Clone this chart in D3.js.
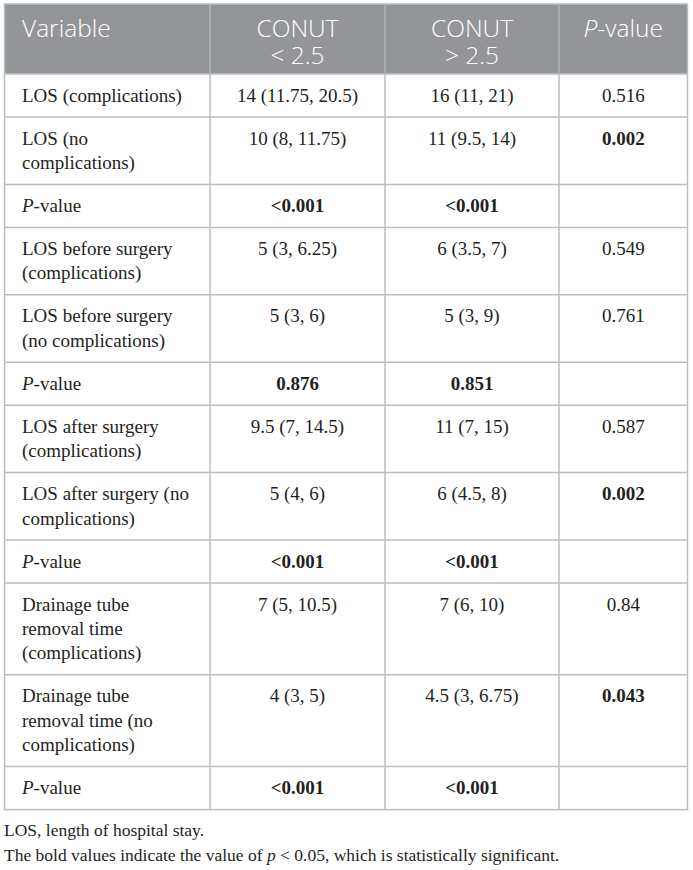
<!DOCTYPE html>
<html>
<head>
<meta charset="utf-8">
<script src="https://cdn.jsdelivr.net/npm/d3@7"></script>
<style>
  html, body { margin: 0; padding: 0; background: #ffffff; }
  svg { display: block; }
</style>
</head>
<body>
<div id="chart"></div>
<script>
// ---------- data ----------
const headers = [["Variable"], ["CONUT", "< 2.5"], ["CONUT", "> 2.5"], ["P-value"]];
const variables = [
  ["LOS (complications)"],
  ["LOS (no", "complications)"],
  ["P-value"],
  ["LOS before surgery", "(complications)"],
  ["LOS before surgery", "(no complications)"],
  ["P-value"],
  ["LOS after surgery", "(complications)"],
  ["LOS after surgery (no", "complications)"],
  ["P-value"],
  ["Drainage tube", "removal time", "(complications)"],
  ["Drainage tube", "removal time (no", "complications)"],
  ["P-value"]
];
const conutLow = ["14 (11.75, 20.5)", "10 (8, 11.75)", "<0.001", "5 (3, 6.25)", "5 (3, 6)", "0.876",
  "9.5 (7, 14.5)", "5 (4, 6)", "<0.001", "7 (5, 10.5)", "4 (3, 5)", "<0.001"];
const conutHigh = ["16 (11, 21)", "11 (9.5, 14)", "<0.001", "6 (3.5, 7)", "5 (3, 9)", "0.851",
  "11 (7, 15)", "6 (4.5, 8)", "<0.001", "7 (6, 10)", "4.5 (3, 6.75)", "<0.001"];
const pValues = ["0.516", "0.002", "", "0.549", "0.761", "", "0.587", "0.002", "", "0.84", "0.043", ""];
const boldLow  = [false, false, true, false, false, true, false, false, true, false, false, true];
const boldHigh = [false, false, true, false, false, true, false, false, true, false, false, true];
const boldP    = [false, true, false, false, false, false, false, true, false, false, true, false];
const footnotes = ["LOS, length of hospital stay.",
  "The bold values indicate the value of p < 0.05, which is statistically significant."];

// ---------- layout ----------
const W = 693, H = 870;
const colEdges = [4.5, 210, 385, 559, 687.5];
const tableTop = 4, headerH = 70;
const lineH = 24.4, rowPad = 18.6, firstBase = 27.5;
const serif = "'Liberation Serif', 'Times New Roman', serif";
const sans = "'Open Sans', 'Noto Sans', sans-serif";
const textCol = "#231f20";
const lineCol = "#b9bfbe";

const svg = d3.select("#chart").append("svg").attr("width", W).attr("height", H);

// row geometry
const rows = variables.map((v, i) => ({
  i, lines: v, low: conutLow[i], high: conutHigh[i], p: pValues[i],
  bLow: boldLow[i], bHigh: boldHigh[i], bP: boldP[i],
  h: rowPad + lineH * v.length
}));
let y0 = tableTop + headerH;
rows.forEach(r => { r.y = y0; y0 += r.h; });
const tableBottom = y0;

const x = d3.scaleOrdinal().domain([0, 1, 2, 3]).range(colEdges.slice(0, 4));
const colW = d => colEdges[d + 1] - colEdges[d];
const textLeft = 22;

// header
svg.append("rect").attr("x", colEdges[0]).attr("y", tableTop)
  .attr("width", colEdges[4] - colEdges[0]).attr("height", headerH).attr("fill", "#939598");

// helper to write text with italic P
function writeText(sel, str) {
  if (str === "P-value") {
    sel.append("tspan").attr("font-style", "italic").text("P");
    sel.append("tspan").text("-value");
  } else {
    sel.text(str);
  }
}

headers.forEach((hl, c) => {
  const cx = c === 0 ? textLeft : x(c) + colW(c) / 2;
  const t = svg.append("text")
    .attr("x", cx)
    .attr("y", tableTop + 32.5)
    .attr("text-anchor", c === 0 ? "start" : "middle")
    .attr("font-family", sans).attr("font-size", 24.5).attr("font-weight", 300)
    .attr("fill", "#ffffff");
  if (hl.length === 1) {
    writeText(t, hl[0]);
  } else {
    hl.forEach((ln, k) => {
      t.append("tspan").attr("x", cx).attr("dy", k === 0 ? 0 : 27).text(ln);
    });
  }
});

// body rows
const g = svg.append("g");
rows.forEach(r => {
  r.lines.forEach((ln, k) => {
    const t = g.append("text")
      .attr("x", textLeft).attr("y", r.y + firstBase + k * lineH)
      .attr("font-family", serif).attr("font-size", 19).attr("fill", textCol);
    writeText(t, ln);
  });
  [[r.low, r.bLow], [r.high, r.bHigh], [r.p, r.bP]].forEach(([val, b], j) => {
    const c = j + 1;
    g.append("text")
      .attr("x", x(c) + colW(c) / 2).attr("y", r.y + firstBase)
      .attr("text-anchor", "middle")
      .attr("font-family", serif).attr("font-size", 19)
      .attr("font-weight", b ? "bold" : "normal")
      .attr("fill", textCol).text(val);
  });
});

// grid lines
const lines = svg.append("g").attr("stroke", lineCol).attr("stroke-width", 1.5).attr("fill", "none");
rows.forEach(r => {
  lines.append("line").attr("x1", colEdges[0]).attr("x2", colEdges[4]).attr("y1", r.y).attr("y2", r.y);
});
[1, 2, 3].forEach(c => {
  lines.append("line").attr("x1", colEdges[c]).attr("x2", colEdges[c])
    .attr("y1", tableTop).attr("y2", tableBottom);
});
lines.append("rect").attr("x", colEdges[0]).attr("y", tableTop)
  .attr("width", colEdges[4] - colEdges[0]).attr("height", tableBottom - tableTop)
  .attr("stroke", "#b3c0bd");
[1, 2, 3].forEach(c => {
  svg.append("line").attr("x1", colEdges[c]).attr("x2", colEdges[c])
    .attr("y1", tableTop).attr("y2", tableTop + headerH)
    .attr("stroke", "#a9adaf").attr("stroke-width", 1.5);
});

// footnotes
svg.append("text").attr("x", 4).attr("y", tableBottom + 26)
  .attr("font-family", serif).attr("font-size", 17.5).attr("fill", textCol).text(footnotes[0]);
const f2 = svg.append("text").attr("x", 4).attr("y", tableBottom + 51)
  .attr("font-family", serif).attr("font-size", 17.5).attr("fill", textCol);
const parts = footnotes[1].split(" p ");
f2.append("tspan").text(parts[0] + " ");
f2.append("tspan").attr("font-style", "italic").text("p");
f2.append("tspan").text(" " + parts[1]);
</script>
</body>
</html>
